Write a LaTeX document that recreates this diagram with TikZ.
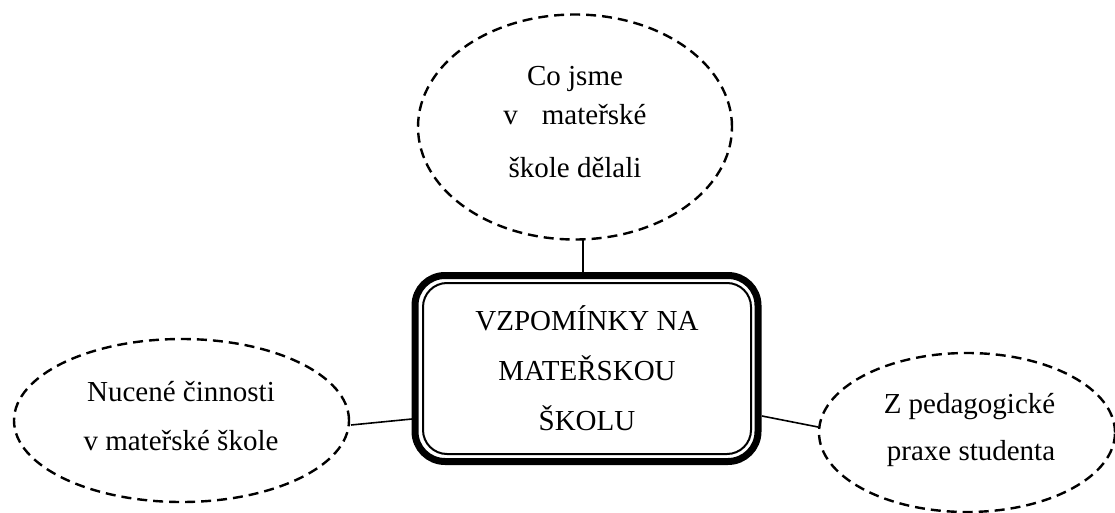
\documentclass[tikz,border=0pt]{standalone}
\usepackage{fontspec}
\setmainfont{Liberation Serif}
\usetikzlibrary{shapes.geometric}
\begin{document}
\begin{tikzpicture}[x=1pt,y=-1pt,
  bubble/.style={ellipse, draw, dash pattern=on 10pt off 6pt, line width=2.4pt, inner sep=0pt},
  txt/.style={anchor=base, font=\fontsize{29}{29}\selectfont, inner sep=0pt},
  link/.style={line width=1.6pt}]
\useasboundingbox (0,0) rectangle (1115,513);
% central box
\draw[line width=7pt, rounded corners=30pt] (415,275.5) rectangle (758,461.5);
\node[draw, line width=2pt, rounded corners=24pt, minimum width=328pt, minimum height=171pt, inner sep=0pt] (main) at (587,368.5) {};
\node[txt] (m1) at (587,330) {VZPOMÍNKY NA};
\node[txt] (m2) at (587,380) {MATEŘSKOU};
\node[txt] (m3) at (587,430) {ŠKOLU};
% bubbles
\node[bubble, minimum width=314pt, minimum height=225pt] (top) at (575,127) {};
\node[bubble, minimum width=335pt, minimum height=163pt] (left) at (181.5,420.5) {};
\node[bubble, minimum width=296pt, minimum height=159pt] (right) at (967,432.5) {};
% texts
\node[txt] (t1) at (575,86) {Co jsme};
\node[txt] (t2) at (575,125) {v\hspace{24pt}mateřské};
\node[txt] (t3) at (575,178) {škole dělali};
\node[txt] (l1) at (181,401) {Nucené činnosti};
\node[txt] (l2) at (181,450) {v mateřské škole};
\node[txt] (r1) at (969.5,413) {Z pedagogické};
\node[txt] (r2) at (971,460) {praxe studenta};
% connectors
\coordinate (topend) at (583,239);
\coordinate (mainTop) at (583,272);
\coordinate (leftend) at (351,425);
\coordinate (mainLeft) at (412,419);
\coordinate (rightend) at (818,427);
\coordinate (mainRight) at (762,416);
\draw[link] (topend) -- (mainTop);
\draw[link] (leftend) -- (mainLeft);
\draw[link] (mainRight) -- (rightend);
\end{tikzpicture}
\end{document}
